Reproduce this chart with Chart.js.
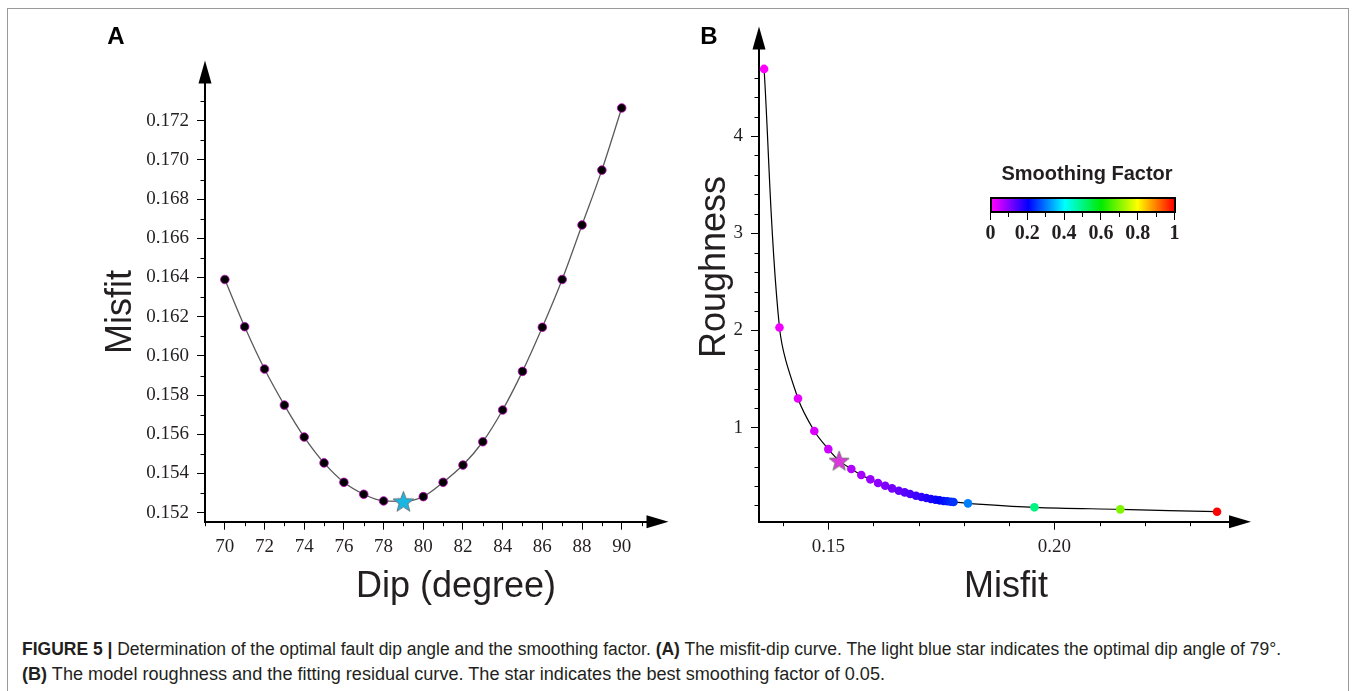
<!DOCTYPE html>
<html>
<head>
<meta charset="utf-8">
<script src="https://cdn.jsdelivr.net/npm/chart.js@4.4.1/dist/chart.umd.min.js"></script>
<style>
body{margin:0;background:#fff;width:1354px;height:691px;overflow:hidden;position:relative;font-family:"Liberation Sans",Arial,sans-serif;color:#231f20}
.abs{position:absolute}
.ctr{position:absolute;transform:translate(-50%,-50%);white-space:nowrap;line-height:1}
#frame{left:7px;top:8px;width:1340px;height:700px;border:1px solid #9a9a9a}
.letter{font-weight:bold;font-size:24px;color:#000}
.atitle{font-size:36px;color:#231f20}
.rot{transform:translate(-50%,-50%) rotate(-90deg)}
.cap{position:absolute;left:22px;font-size:18px;white-space:nowrap;transform-origin:0 50%;color:#231f20;line-height:1}
#cbar{left:990px;top:197px;width:182px;height:12px;border:2px solid #000}
.cbl{font-family:"Liberation Serif","Times New Roman",serif;font-weight:bold;font-size:20px;color:#231f20}
</style>
</head>
<body>
<div id="frame" class="abs"></div>
<canvas id="chartA" class="abs" style="left:0;top:0" width="690" height="620"></canvas>
<canvas id="chartB" class="abs" style="left:690px;top:0" width="664" height="620"></canvas>

<div class="ctr letter" style="left:116px;top:36px">A</div>
<div class="ctr letter" style="left:709px;top:36px">B</div>
<div class="ctr atitle rot" style="left:119px;top:312px">Misfit</div>
<div class="ctr atitle" style="left:456px;top:585px">Dip (degree)</div>
<div class="ctr atitle rot" style="left:713px;top:267px">Roughness</div>
<div class="ctr atitle" style="left:1006px;top:585px">Misfit</div>

<div class="ctr" style="left:1087px;top:173px;font-weight:bold;font-size:20px">Smoothing Factor</div>
<div id="cbar" class="abs"></div>
<div id="cbticks"></div>

<div id="cap1" class="cap" style="top:640px"><b>FIGURE 5 |</b> Determination of the optimal fault dip angle and the smoothing factor. <b>(A)</b> The misfit-dip curve. The light blue star indicates the optimal dip angle of 79°.</div>
<div id="cap2" class="cap" style="top:665px"><b>(B)</b> The model roughness and the fitting residual curve. The star indicates the best smoothing factor of 0.05.</div>

<script>
// panel A: misfit for each trial dip
var dips = [70,71,72,73,74,75,76,77,78,79,80,81,82,83,84,85,86,87,88,89,90];
var misfits = [0.1639,0.16149,0.15933,0.15749,0.15586,0.15454,0.15355,0.15294,0.1526,0.15258,
               0.15282,0.15355,0.15443,0.15562,0.15724,0.15921,0.16146,0.1639,0.16668,0.16948,0.17265];
var bestDip = 79;
var bestMisfit = 0.15258;

// panel B: misfit / roughness for each smoothing factor
var factors = [0,0.01,0.02,0.03,0.04,0.06,0.07,0.08,0.09,0.10,0.11,0.12,0.13,0.14,0.15,0.16,0.17,0.18,
               0.19,0.20,0.21,0.22,0.23,0.24,0.3,0.5,0.7,1];
var misfitB = [0.1358,0.1392,0.1433,0.1469,0.1500,0.1551,0.1573,0.1593,0.1610,0.1626,0.1641,0.1656,0.1669,
               0.1681,0.1694,0.1706,0.1717,0.1727,0.1737,0.1746,0.1755,0.1763,0.1771,0.1777,0.1809,0.1956,0.2146,0.2360];
var roughness = [4.69,2.03,1.30,0.966,0.78,0.575,0.513,0.469,0.431,0.403,0.376,0.352,0.335,
                 0.318,0.300,0.287,0.277,0.266,0.259,0.253,0.246,0.243,0.239,0.236,0.222,0.181,0.160,0.136];
var bestFactor = 0.05;
var bestMisfitB = 0.1524;
var bestRough = 0.661;

var cbarTicks = [0,0.1,0.2,0.3,0.4,0.5,0.6,0.7,0.8,0.9,1];
var cbarLabels = ['0','0.2','0.4','0.6','0.8','1'];

var cmapStops = [[0,[255,0,255]],[0.2,[0,0,255]],[0.4,[0,255,255]],[0.6,[0,235,0]],[0.8,[255,255,0]],[1,[255,0,0]]];

function cmap(t){
    for(var i=1;i<cmapStops.length;i++){
        if(t<=cmapStops[i][0]){
            var a=cmapStops[i-1], b=cmapStops[i];
            var f=(t-a[0])/(b[0]-a[0]);
            var c=[0,1,2].map(function(k){return Math.round(a[1][k]+(b[1][k]-a[1][k])*f);});
            return 'rgb('+c.join(',')+')';
        }
    }
    return 'rgb(255,0,0)';
}

function starImage(fill, R){
    var s = Math.ceil(2*R+3);
    var c = document.createElement('canvas');
    c.width = s; c.height = s;
    var g = c.getContext('2d');
    var cx = s/2, cy = s/2 + R*0.09, r = R*0.42;
    g.beginPath();
    for(var i=0;i<10;i++){
        var ang = -Math.PI/2 + i*Math.PI/5;
        var rr = (i%2) ? r : R;
        g.lineTo(cx+rr*Math.cos(ang), cy+rr*Math.sin(ang));
    }
    g.closePath();
    g.fillStyle = fill; g.fill();
    g.strokeStyle = '#707070'; g.lineWidth = 0.9; g.stroke();
    return c;
}

// minor ticks + arrow heads on the axes
var axisExtras = {
    id: 'axisExtras',
    afterDraw: function(chart, args, opts){
        var ctx = chart.ctx, a = chart.chartArea;
        var xs = chart.scales.x, ys = chart.scales.y;
        ctx.save();
        ctx.strokeStyle = '#000';
        ctx.lineWidth = 1;
        function isMajor(scale, v, step){
            return scale.ticks.some(function(t){return Math.abs(t.value-v) < step/10;});
        }
        var m = opts.xMinor, n = Math.round((m[1]-m[0])/m[2]);
        for(var i=0;i<=n;i++){
            var v = m[0]+i*m[2];
            if(isMajor(xs, v, m[2])) continue;
            var px = Math.round(xs.getPixelForValue(v))+0.5;
            ctx.beginPath(); ctx.moveTo(px, a.bottom); ctx.lineTo(px, a.bottom+4.5); ctx.stroke();
        }
        m = opts.yMinor; n = Math.round((m[1]-m[0])/m[2]);
        for(i=0;i<=n;i++){
            v = m[0]+i*m[2];
            if(isMajor(ys, v, m[2])) continue;
            var py = Math.round(ys.getPixelForValue(v))+0.5;
            ctx.beginPath(); ctx.moveTo(a.left, py); ctx.lineTo(a.left-4.5, py); ctx.stroke();
        }
        // arrows
        ctx.fillStyle = '#000';
        ctx.beginPath();
        ctx.moveTo(a.left-6.5, a.top+1); ctx.lineTo(a.left+6.5, a.top+1); ctx.lineTo(a.left, a.top-22); ctx.closePath(); ctx.fill();
        ctx.beginPath();
        ctx.moveTo(a.right-1, a.bottom-6.5); ctx.lineTo(a.right-1, a.bottom+6.5); ctx.lineTo(a.right+21, a.bottom); ctx.closePath(); ctx.fill();
        ctx.restore();
    }
};

function axisOpts(min, max, step, digits, fit, horiz){
    return {
        type: 'linear', min: min, max: max,
        afterFit: function(s){ if(horiz){ s.height = fit; } else { s.width = fit; } },
        border: {display: true, color: '#000', width: 2},
        grid: {display: true, drawOnChartArea: false, drawTicks: true, tickLength: 8, tickColor: '#000', tickWidth: 1},
        ticks: {
            stepSize: step, includeBounds: false, autoSkip: false, maxRotation: 0,
            padding: horiz ? 6 : 8, color: '#231f20',
            font: {family: '"Liberation Serif", "Times New Roman", serif', size: 19},
            callback: function(v){ return Number(v).toFixed(digits); }
        }
    };
}

Chart.defaults.font.family = '"Liberation Sans", Arial, sans-serif';

var lineA = dips.map(function(d,i){ return {x: d, y: misfits[i]}; });
var ptsA = dips.map(function(d,i){ return {x: d, y: misfits[i]}; }).filter(function(p){ return p.x !== bestDip; });

new Chart(document.getElementById('chartA').getContext('2d'), {
    type: 'scatter',
    data: {
        datasets: [
            {data: [{x: bestDip, y: bestMisfit}], pointStyle: starImage('#19b6e4', 11), pointRadius: 11, order: 0, clip: false},
            {data: ptsA, pointRadius: 4.3, backgroundColor: '#000', borderColor: '#c000c0', borderWidth: 0.8, order: 1, clip: false},
            {data: lineA, showLine: true, pointRadius: 0, borderColor: '#5a5a5a', borderWidth: 1.3, cubicInterpolationMode: 'monotone', order: 2, clip: false}
        ]
    },
    options: {
        responsive: false, animation: false, events: [],
        layout: {padding: {left: 0, top: 82.5, right: 42.5, bottom: 0}},
        plugins: {legend: {display: false}, tooltip: {enabled: false},
                  axisExtras: {xMinor: [69, 91, 1], yMinor: [0.152, 0.173, 0.001]}},
        scales: {
            x: axisOpts(69, 91.3, 2, 0, 98.3, true),
            y: axisOpts(0.151541, 0.17395, 0.002, 3, 205, false)
        }
    },
    plugins: [axisExtras]
});

var lineB = misfitB.map(function(m,i){ return {x: m, y: roughness[i]}; });
lineB.push({x: bestMisfitB, y: bestRough});
lineB.sort(function(p,q){ return p.x-q.x; });
var ptsB = misfitB.map(function(m,i){ return {x: m, y: roughness[i]}; });

new Chart(document.getElementById('chartB').getContext('2d'), {
    type: 'scatter',
    data: {
        datasets: [
            {data: [{x: bestMisfitB, y: bestRough}], pointStyle: starImage('#dd36dd', 10.5), pointRadius: 11, order: 0, clip: false},
            {data: ptsB, pointRadius: 4.3, borderWidth: 0, backgroundColor: factors.map(cmap), order: 1, clip: false},
            {data: lineB, showLine: true, pointRadius: 0, borderColor: '#000', borderWidth: 1.2, tension: 0.35, order: 2, clip: false}
        ]
    },
    options: {
        responsive: false, animation: false, events: [],
        layout: {padding: {left: 0, top: 48.5, right: 124, bottom: 0}},
        plugins: {legend: {display: false}, tooltip: {enabled: false},
                  axisExtras: {xMinor: [0.14, 0.23, 0.01], yMinor: [0.2, 4.6, 0.2]}},
        scales: {
            x: axisOpts(0.13467, 0.23887, 0.05, 2, 98.3, true),
            y: axisOpts(0.0332, 4.9, 1, 0, 69, false)
        }
    },
    plugins: [axisExtras]
});

// colour bar legend
document.getElementById('cbar').style.background = 'linear-gradient(to right,' +
    cmapStops.map(function(s){ return cmap(s[0]) + ' ' + (s[0]*100) + '%'; }).join(',') + ')';
var tk = document.getElementById('cbticks');
cbarTicks.forEach(function(t, i){
    var d = document.createElement('div');
    d.className = 'abs';
    d.style.cssText = 'left:' + (990 + t*184) + 'px;top:212px;width:1px;height:' + (i%2 ? 5 : 8) + 'px;background:#000';
    tk.appendChild(d);
});
cbarLabels.forEach(function(l, i){
    var d = document.createElement('div');
    d.className = 'ctr cbl';
    d.style.left = (990.5 + i*0.2*184) + 'px';
    d.style.top = '232px';
    d.textContent = l;
    tk.appendChild(d);
});

// caption lines squeezed to the printed widths
function fitWidth(id, w){
    var el = document.getElementById(id);
    var nat = el.getBoundingClientRect().width;
    el.style.transform = 'scaleX(' + (w/nat) + ')';
}
fitWidth('cap1', 1259);
fitWidth('cap2', 863);
</script>
</body>
</html>
